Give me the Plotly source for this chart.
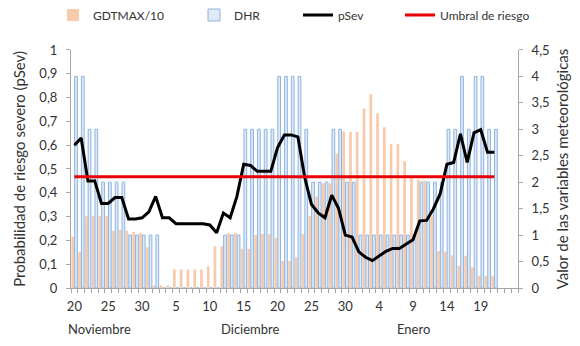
import plotly.graph_objects as go
import pandas as pd

# ---- categories (days) ----
fechas = pd.date_range("2013-11-20", "2014-01-21", freq="D")   # 63 days with data
n_slots = 66                                                    # axis keeps 3 empty slots at the end
tick_pos = [0, 5, 10, 15, 20, 25, 30, 35, 40, 45, 50, 55, 60]
tick_labels = ["20", "25", "30", "5", "10", "15", "20", "25", "30", "4", "9", "14", "19"]
meses = ["Noviembre", "Diciembre", "Enero"]
meses_pos = [3.7, 26.0, 50.0]

# ---- series ----
gdtmax_10 = [0.97, 0.68, 1.36, 1.36, 1.36, 1.36, 1.08, 1.10, 1.08, 1.06,
             1.04, 0.77, 0.05, 0.05, 0.05, 0.35, 0.35, 0.35, 0.35, 0.35,
             0.41, 0.79, 0.79, 1.04, 1.04, 0.74, 0.74, 1.00, 1.02, 1.02,
             0.95, 0.51, 0.51, 0.58, 1.02, 1.36, 1.73, 1.98, 1.98, 2.54,
             2.96, 2.95, 2.95, 3.39, 3.66, 3.30, 3.04, 2.72, 2.72, 2.40,
             2.08, 2.05, 2.03, 1.35, 0.70, 0.69, 0.62, 0.42, 0.61, 0.39,
             0.23, 0.23, 0.23]
dhr = [4, 4, 3, 3, 2, 2, 2, 2, 1, 1,
       1, 1, 1, 0, 0, 0, 0, 0, 0, 0,
       0, 0, 1, 1, 1, 3, 3, 3, 3, 3,
       4, 4, 4, 4, 3, 2, 2, 2, 3, 3,
       2, 2, 1, 1, 1, 1, 1, 1, 1, 1,
       1, 2, 2, 2, 2, 3, 3, 4, 3, 4,
       4, 3, 3]
psev = [0.600, 0.630, 0.450, 0.450, 0.355, 0.355, 0.380, 0.380, 0.290, 0.290,
        0.295, 0.320, 0.385, 0.295, 0.295, 0.270, 0.270, 0.270, 0.270, 0.270,
        0.265, 0.232, 0.315, 0.295, 0.385, 0.520, 0.515, 0.490, 0.490, 0.490,
        0.590, 0.643, 0.643, 0.635, 0.465, 0.352, 0.315, 0.295, 0.390, 0.335,
        0.222, 0.214, 0.152, 0.129, 0.115, 0.134, 0.154, 0.166, 0.166, 0.185,
        0.203, 0.282, 0.284, 0.332, 0.395, 0.520, 0.527, 0.648, 0.528, 0.652,
        0.665, 0.570, 0.570]
umbral_riesgo = 0.467

x = list(range(len(fechas)))
umbral = [umbral_riesgo] * len(x)

FONT = "Lato"
TXT = "#333333"
AXC = "#A6A6A6"

fig = go.Figure()
fig.add_trace(go.Bar(x=x, y=gdtmax_10, name="GDTMAX/10", yaxis="y",
                     marker=dict(color="#F8CBAD", line=dict(width=0)),
                     legend="legend", showlegend=True))
fig.add_trace(go.Bar(x=x, y=dhr, name="DHR", yaxis="y",
                     marker=dict(color="#DEEAF6", line=dict(color="#8EB4E3", width=1)),
                     legend="legend2", showlegend=True))
fig.add_trace(go.Scatter(x=x, y=psev, name="pSev", yaxis="y2", mode="lines",
                         line=dict(color="#000000", width=3), legend="legend3",
                         showlegend=True))
fig.add_trace(go.Scatter(x=x, y=umbral, name="Umbral de riesgo", yaxis="y2", mode="lines",
                         line=dict(color="#E60000", width=3), legend="legend4",
                         showlegend=True))

for name, pos in zip(meses, meses_pos):
    fig.add_annotation(text=name, x=pos, xref="x", y=-0.1725, yref="paper",
                       showarrow=False, xanchor="center", yanchor="middle",
                       font=dict(family=FONT, size=13, color=TXT))

leg_common = dict(orientation="h", xref="container", yref="container",
                  yanchor="middle", xanchor="left", bgcolor="rgba(0,0,0,0)",
                  font=dict(family=FONT, size=12, color=TXT))

fig.update_layout(
    width=580, height=346,
    margin=dict(l=71, r=62, t=33, b=58),
    plot_bgcolor="white", paper_bgcolor="white",
    separators=", ",
    showlegend=True,
    barmode="group", bargap=0.05, bargroupgap=0.15,
    font=dict(family=FONT, size=12, color=TXT),
    xaxis=dict(range=[-0.5, n_slots - 0.5], tickmode="array", tickvals=tick_pos,
               ticktext=tick_labels, ticks="", showline=True, linecolor=AXC,
               linewidth=1, showgrid=False, zeroline=False, ticklabelstandoff=6,
               tickfont=dict(family=FONT, size=13, color=TXT),
               minor=dict(ticks="outside", tick0=0.5, dtick=1, ticklen=4,
                          tickcolor=AXC, showgrid=False)),
    yaxis=dict(side="right", range=[0, 4.5], dtick=0.5, ticks="outside", ticklen=4,
               tickcolor=AXC, showline=True, linecolor=AXC, showgrid=False,
               zeroline=False, ticklabelstandoff=6,
               tickfont=dict(family=FONT, size=13, color=TXT),
               title=dict(text="Valor de las variables meteorológicas", standoff=8,
                          font=dict(family=FONT, size=15, color=TXT))),
    yaxis2=dict(side="left", overlaying="y", range=[0, 1], dtick=0.1, ticks="outside",
                ticklen=4, tickcolor=AXC, showline=True, linecolor=AXC, showgrid=False,
                zeroline=False, ticklabelstandoff=6,
                tickfont=dict(family=FONT, size=13, color=TXT),
                title=dict(text="Probabilidad de riesgo severo (pSev)", standoff=10,
                           font=dict(family=FONT, size=15, color=TXT))),
    legend=dict(x=53 / 580, y=1 - 15 / 346, **leg_common),
    legend2=dict(x=194 / 580, y=1 - 15 / 346, **leg_common),
    legend3=dict(x=298 / 580, y=1 - 15 / 346, **leg_common),
    legend4=dict(x=400 / 580, y=1 - 15 / 346, **leg_common),
)

fig.write_html("out.html")
